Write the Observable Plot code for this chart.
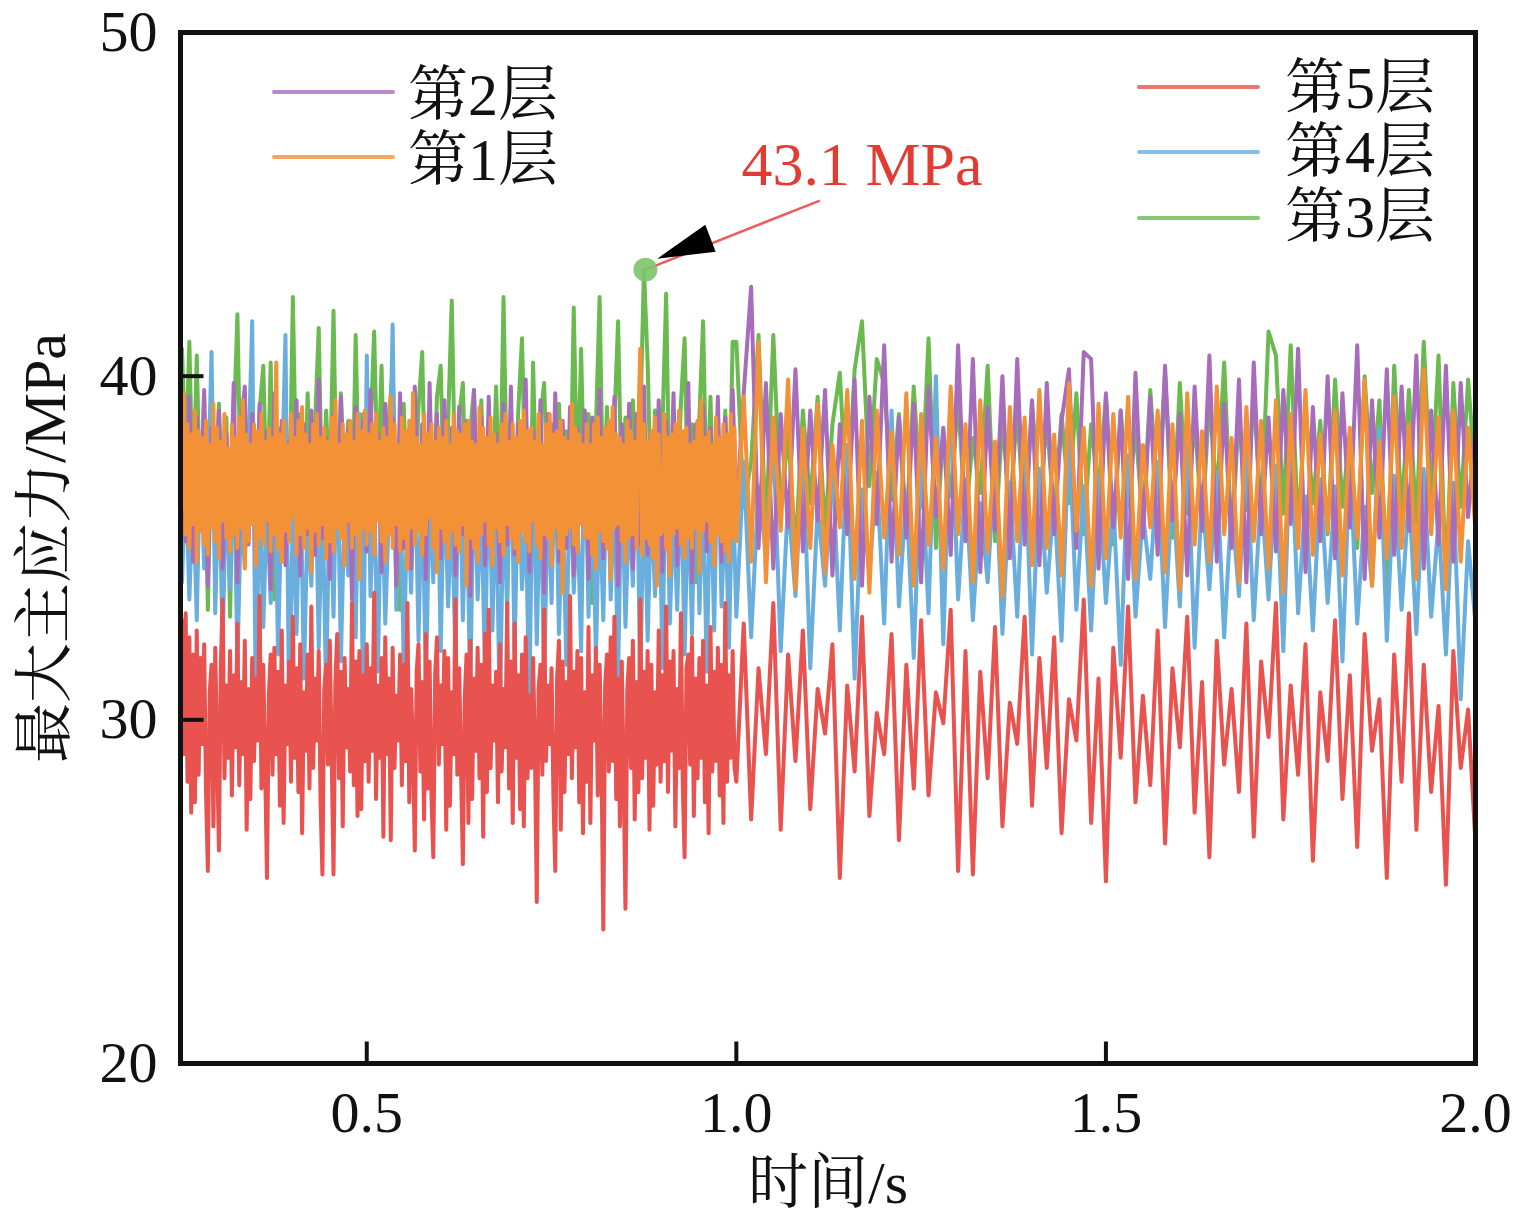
<!DOCTYPE html>
<html><head><meta charset="utf-8">
<script src="https://cdn.jsdelivr.net/npm/d3@7"></script>
<script src="https://cdn.jsdelivr.net/npm/@observablehq/plot@0.6"></script>
<style>
body{margin:0;background:#fff;}
#wrap{position:relative;width:1535px;height:1220px;}
.lg-line{position:absolute;height:4px;border-radius:2px;}
.lg-text{position:absolute;font-family:'Liberation Serif','Times New Roman','Noto Serif CJK SC','Noto Sans CJK SC',serif;font-size:60px;line-height:60px;color:#111;white-space:nowrap;}
</style></head>
<body><div id="wrap"></div>
<script>
// ---- data ----
// dense part: 0.25 s up to 1.0 s (samples evenly spread); sparse part: 1.00 … 2.00 s every 0.01 s
const denseStart = 0.25, denseEnd = 1.0;
const sparseStart = 1.0, sparseStep = 0.01;

// 第5层 (red), dense 300 samples
const layer5Dense = [
32.9,29.0,33.1,28.2,32.4,27.3,31.9,27.6,32.6,28.4,
31.8,29.3,32.2,27.9,25.6,30.8,31.6,26.9,32.1,29.1,
26.2,31.5,33.5,28.3,31.0,28.9,32.0,27.8,31.3,29.2,
32.8,28.1,31.1,29.0,32.3,26.8,30.9,27.7,31.8,28.8,
31.2,29.4,33.6,28.0,31.6,28.7,25.4,30.7,31.9,28.4,
32.1,29.0,31.4,27.5,32.6,27.0,31.0,29.3,31.7,28.2,
33.0,28.9,31.5,27.9,32.2,26.7,30.8,29.1,31.9,28.0,
33.3,28.6,31.2,29.4,32.0,27.6,25.5,30.9,31.6,28.7,
32.3,29.0,25.5,31.1,32.5,28.3,31.4,26.9,31.8,29.2,
30.9,28.5,33.4,28.1,31.7,27.2,32.0,27.4,31.3,28.8,
32.2,28.2,31.5,29.1,33.7,27.7,31.0,28.9,31.8,26.6,
32.4,29.0,31.2,26.5,32.1,28.6,30.7,29.4,31.9,28.1,
31.6,28.8,33.4,27.6,30.9,29.2,26.2,31.4,32.2,28.5,
31.1,27.1,32.5,28.0,31.7,27.8,26.0,31.3,32.4,28.7,
31.0,29.3,32.0,26.8,31.8,27.5,30.8,29.0,33.5,28.4,
31.5,28.6,25.8,30.6,31.9,27.0,32.3,27.7,31.2,29.1,
32.1,28.3,31.6,26.6,32.5,27.9,33.2,28.6,31.0,29.4,
31.4,27.6,32.2,28.5,30.9,29.2,33.4,28.0,31.7,27.0,
32.8,28.9,31.3,27.4,31.9,26.9,32.4,28.3,30.7,28.6,
31.8,29.1,24.7,30.9,31.6,28.4,33.2,28.8,31.0,29.3,
31.5,27.8,25.6,31.2,32.3,26.8,31.7,27.9,31.1,29.0,
33.6,28.3,31.4,29.2,32.0,27.6,31.8,26.7,30.8,28.2,
32.7,27.0,31.3,29.4,32.1,27.8,31.6,29.0,23.9,31.0,
31.9,28.5,32.4,28.8,33.0,27.7,31.2,26.9,31.7,28.4,
24.5,30.9,31.8,28.6,32.3,27.1,31.1,27.9,33.5,28.3,
31.4,28.9,32.0,26.8,31.6,27.5,30.8,28.7,32.6,28.2,
31.3,28.8,33.3,27.9,31.7,29.1,32.0,26.9,30.9,28.6,
33.1,28.1,26.0,31.5,31.9,28.7,32.4,27.2,31.2,28.3,
31.8,28.9,32.3,27.6,31.0,26.7,32.7,28.5,31.4,28.8,
32.1,27.8,31.6,27.0,33.4,28.2,31.3,28.9,32.0,28.6];
const layer5Sparse = [
28.2,32.8,27.1,31.5,29.0,33.4,26.8,31.9,28.8,32.6,
27.4,30.9,29.6,32.2,25.4,31.0,28.5,33.0,27.2,30.2,
29.0,32.5,26.5,31.6,28.0,32.9,27.8,30.8,29.9,33.2,
25.6,32.0,25.5,31.4,28.3,32.7,26.9,30.5,29.3,33.0,
27.5,31.8,28.6,32.4,26.7,30.6,29.4,33.5,27.0,31.2,
25.3,32.1,28.9,33.3,27.6,30.7,28.1,32.6,26.4,31.5,
29.2,33.0,27.3,31.1,26.0,32.3,28.7,30.9,27.9,32.8,
26.6,31.7,29.5,33.4,27.1,31.0,28.4,32.2,25.9,30.8,
28.8,32.9,27.7,31.3,26.3,32.5,29.1,30.6,25.4,31.9,
28.2,33.1,26.8,31.6,27.9,30.4,25.2,32.0,28.6,30.3,26.4];

// 第4层 (blue), dense 150 samples
const layer4Dense = [
34.0,37.2,33.5,36.8,32.9,38.0,34.4,36.5,40.7,33.1,
37.4,32.2,36.9,33.8,38.3,31.6,36.2,34.5,37.7,41.6,
30.0,37.0,32.7,36.4,33.4,38.1,31.9,36.7,41.2,29.8,
36.3,32.5,37.5,31.2,36.0,33.9,38.2,32.1,36.6,30.8,
37.1,33.0,38.4,31.7,36.4,34.2,37.6,32.4,38.9,30.5,
40.6,33.6,36.8,31.4,37.3,32.8,36.1,41.5,33.2,37.9,
31.5,36.5,33.7,38.0,32.3,37.2,30.9,36.6,34.0,38.5,
32.0,37.4,33.3,36.2,31.8,38.6,32.9,36.9,30.6,37.8,
33.5,36.3,31.3,38.1,32.6,37.0,29.8,36.7,33.1,38.7,
31.9,37.5,33.8,36.0,30.4,38.3,32.2,37.1,31.0,36.8,
33.4,38.0,32.5,36.4,31.6,37.6,33.7,36.1,32.0,38.9,
33.0,37.3,31.8,36.6,32.9,38.2,33.5,36.9,31.2,37.5,
32.7,36.3,33.9,38.4,30.9,37.1,32.3,36.5,33.6,37.8,
31.5,38.6,32.8,36.2,33.2,37.4,31.9,36.8,32.5,38.0,
33.1,36.7,31.4,37.2,32.6,38.5,33.3,36.4,32.1,37.0];
const layer4Sparse = [
33.0,37.5,32.4,36.8,34.8,38.2,32.0,36.4,33.6,37.9,
31.5,36.2,33.9,37.4,32.6,38.0,31.2,36.7,34.2,37.2,
32.8,39.0,33.3,36.6,31.8,37.8,33.1,40.0,32.2,39.4,
33.5,37.0,32.9,36.3,34.0,37.6,32.5,36.9,33.0,38.1,
31.9,37.3,33.7,36.5,32.3,38.4,33.2,36.8,32.6,37.1,
33.4,36.4,31.6,37.7,33.0,36.0,34.1,37.5,32.7,36.9,
33.3,38.0,32.1,36.6,33.8,37.2,32.4,36.3,33.6,37.8,
32.9,36.7,33.5,37.4,32.0,38.3,33.1,36.5,32.6,37.0,
33.4,36.8,31.7,37.6,32.8,36.2,33.9,38.5,32.3,37.1,
33.2,36.6,32.5,37.3,33.0,35.8,31.9,36.9,30.6,35.2,32.8];

// 第3层 (green), dense 150 samples
const layer3Dense = [
40.8,37.4,41.0,36.2,40.6,35.8,39.4,33.2,38.6,36.4,
39.2,35.6,38.8,33.0,38.4,41.8,36.0,39.1,35.4,38.7,
36.2,39.0,40.3,35.9,40.4,33.5,38.5,36.1,39.3,35.7,
42.3,36.4,38.9,35.5,39.5,36.3,38.6,41.4,35.8,39.0,
36.5,41.9,35.6,39.5,36.8,38.7,35.3,41.2,36.0,38.9,
35.7,38.4,41.3,36.6,40.3,35.2,38.8,40.2,36.1,33.2,
39.2,35.8,38.5,36.4,39.1,40.7,35.5,38.9,36.2,39.4,
40.3,35.9,38.6,42.2,36.3,38.8,39.8,35.6,38.4,39.6,
36.0,39.3,35.4,38.7,36.5,39.7,35.8,42.3,36.2,38.5,
35.7,39.0,41.1,36.4,33.6,40.4,35.9,38.8,39.8,36.1,
38.6,35.5,39.2,36.3,38.4,35.7,42.0,36.6,40.8,35.8,
38.9,33.4,38.5,42.3,36.0,39.1,35.6,38.7,41.6,36.2,
38.8,35.4,39.3,36.5,38.6,43.1,40.4,35.9,39.0,36.3,
38.5,42.4,35.7,38.9,36.4,39.2,41.1,35.8,38.6,34.0,
38.8,41.6,36.1,39.4,35.5,38.7,36.2,39.0,35.9,41.0];
const layer3Sparse = [
41.0,36.2,37.5,41.2,35.4,41.2,36.0,38.4,34.9,39.0,
36.3,39.4,35.5,38.6,40.1,36.0,40.2,41.6,36.8,40.5,
39.8,36.4,38.9,35.6,39.7,36.2,41.1,35.0,38.4,36.5,
39.3,35.8,38.2,36.6,40.3,35.2,38.7,36.1,39.0,35.5,
39.2,36.4,38.7,35.9,38.9,36.3,39.5,35.4,38.6,36.7,
39.4,35.1,39.0,36.2,38.5,35.7,39.6,36.4,40.1,35.3,
39.8,36.0,38.8,35.6,39.3,36.5,40.4,35.2,38.9,36.1,
39.5,35.8,41.3,40.6,36.0,40.9,35.5,39.2,36.3,38.7,
35.4,39.9,36.2,38.4,35.0,40.0,36.6,39.3,33.8,40.3,
36.0,39.6,35.7,41.0,36.4,40.6,33.9,39.8,36.2,39.9,37.0];

// 第2层 (purple), dense 150 samples
const layer2Dense = [
38.0,35.2,39.4,34.6,38.8,36.0,39.6,33.9,38.5,35.5,
39.0,34.4,38.3,35.8,39.8,34.0,38.6,39.7,35.1,38.9,
34.7,39.2,35.6,38.4,33.8,39.5,35.0,38.7,34.5,38.1,
35.9,39.3,34.2,38.6,35.4,39.0,34.8,39.9,35.3,38.2,
34.1,38.9,35.7,39.4,34.6,38.5,33.5,39.1,35.2,38.7,
34.9,39.6,35.5,38.3,34.3,39.2,35.8,38.8,33.9,39.5,
35.0,38.4,34.4,39.7,35.6,38.6,34.1,39.8,35.3,38.9,
34.7,39.3,35.9,38.5,34.2,39.1,35.4,38.7,33.6,39.6,
35.2,38.8,34.5,39.4,35.7,38.3,34.0,39.2,35.1,39.7,
34.8,38.6,35.6,39.9,34.3,38.4,35.5,39.3,33.7,38.9,
35.4,39.5,34.6,38.7,35.0,39.1,34.2,38.5,35.8,39.0,
34.1,38.8,35.3,39.6,34.7,38.3,35.5,39.4,33.9,38.6,
35.6,39.2,34.4,38.9,35.1,39.7,34.8,38.4,35.9,39.3,
34.3,38.7,35.7,39.5,34.5,38.2,35.2,39.8,34.0,38.6,
35.4,39.1,34.9,38.5,35.8,39.4,34.6,38.8,35.3,39.6];
const layer2Sparse = [
36.0,39.5,42.6,35.0,39.8,34.4,38.9,35.6,40.2,34.9,
39.0,35.8,39.6,34.2,38.6,35.4,39.9,33.9,39.4,35.7,
40.9,34.6,38.8,35.3,39.2,34.0,39.7,35.9,38.5,34.8,
40.9,35.2,40.5,34.3,39.1,35.5,40.0,34.7,40.5,35.1,
39.3,34.5,39.8,35.4,38.7,40.2,35.0,40.7,40.5,34.4,
39.5,35.6,39.0,34.1,40.1,35.3,39.4,34.8,40.3,35.8,
38.9,34.2,39.7,35.5,40.6,34.6,39.2,35.0,39.9,34.0,
40.4,35.4,38.8,34.9,39.6,35.7,40.8,34.3,39.1,35.2,
40.0,34.7,39.5,35.6,40.9,34.1,39.3,35.3,40.2,34.8,
39.7,35.5,40.6,34.4,39.0,35.1,40.3,34.6,39.8,35.9,38.6];

// 第1层 (orange), dense 300 samples
const layer1Dense = [
36.2,39.5,35.4,38.6,35.0,38.3,35.7,39.0,34.6,38.4,
35.5,38.2,35.1,38.7,34.8,38.0,35.6,39.2,35.2,38.5,
34.7,38.1,35.8,38.9,35.3,37.9,34.9,38.6,35.4,38.2,
35.0,38.8,35.6,39.3,34.4,38.3,35.2,38.0,35.7,38.6,
34.5,38.4,35.3,38.9,35.1,38.1,35.8,38.5,34.9,38.2,
35.4,40.4,35.0,38.3,34.6,38.7,35.5,38.0,35.2,38.9,
35.9,38.2,34.8,38.7,35.4,39.1,35.0,38.3,35.6,38.0,
34.3,38.6,35.5,38.9,35.1,38.2,35.7,38.5,34.7,38.1,
35.2,38.8,34.9,39.3,35.6,38.0,35.3,38.6,34.5,38.3,
35.8,38.7,35.0,38.1,35.4,38.9,34.1,38.4,35.6,39.0,
35.1,38.3,35.5,38.6,34.8,38.9,35.8,38.1,35.2,38.5,
34.6,38.2,35.4,39.4,35.0,38.6,35.7,38.0,34.9,38.8,
35.3,38.4,34.4,38.7,35.6,39.5,35.1,38.2,35.5,38.0,
34.8,38.9,35.4,38.3,35.9,38.6,35.0,38.1,34.3,38.5,
35.6,38.2,35.2,38.7,34.7,38.0,35.5,38.9,35.1,38.4,
34.9,38.3,35.7,38.6,33.9,38.7,35.3,38.1,35.0,38.0,
34.6,39.1,35.4,38.5,35.8,38.2,35.1,38.8,34.5,38.3,
35.6,38.0,35.2,38.6,34.8,38.9,35.7,38.1,35.3,38.6,
35.0,38.2,34.6,38.7,35.5,39.0,35.2,38.4,34.9,38.5,
35.8,38.1,35.1,38.9,34.7,38.0,35.4,38.6,35.3,38.9,
34.5,38.3,35.6,38.4,35.0,38.7,33.7,38.2,35.4,38.1,
35.6,39.2,35.1,38.5,34.9,38.3,35.7,38.0,35.3,38.6,
35.3,38.0,34.8,38.6,34.4,38.8,35.5,38.2,35.2,38.5,
35.0,38.7,34.1,39.1,35.6,38.3,35.7,38.2,35.2,38.0,
34.6,38.7,35.3,38.4,35.4,38.1,35.0,38.6,40.8,34.8,
38.6,35.3,38.1,35.1,38.4,34.7,38.8,33.9,38.3,35.4,
35.5,38.9,35.0,38.2,34.2,38.3,35.4,38.6,35.6,39.0,
35.1,38.4,34.7,38.5,35.3,38.0,35.0,38.1,35.6,38.7,
34.3,39.3,35.5,38.2,35.8,38.4,35.2,38.0,34.5,38.8,
35.4,38.2,35.2,38.6,34.9,38.3,34.6,38.9,35.3,38.5];
const layer1Sparse = [
35.2,39.4,34.6,41.0,34.0,38.8,35.5,39.9,33.8,38.5,
35.0,39.2,34.3,38.0,35.6,39.6,34.1,38.7,33.7,39.0,
35.3,38.4,34.8,39.5,33.9,38.9,35.1,38.2,34.4,39.7,
35.4,38.6,34.0,39.3,34.9,38.1,33.6,39.1,35.2,38.8,
34.5,39.6,35.0,38.3,34.2,39.8,35.5,38.5,33.9,39.2,
34.7,38.9,35.3,39.4,34.1,38.0,35.6,39.0,34.3,38.6,
33.8,39.5,35.1,38.4,34.6,39.7,35.4,38.2,34.0,39.1,
35.2,38.7,34.4,39.3,33.7,38.9,35.0,39.6,34.8,38.3,
35.5,39.0,34.2,38.5,35.3,39.9,33.9,38.1,34.7,39.4,
35.0,38.6,34.1,40.2,35.4,38.8,33.8,39.0,34.6,38.5,35.5];

const xTicks = [0.5, 1.0, 1.5, 2.0];
const yTicks = [20, 30, 40, 50];

// peak annotation
const peakNote = [{t: 0.877, v: 43.1, tipT: 0.893, tipV: 43.42, tailT: 1.113, tailV: 45.11, labelT: 1.170, labelV: 46.13, label: "43.1 MPa"}];

// ---- build ----
function seriesRows(dense, sparse) {
  const step = (denseEnd - denseStart) / dense.length;
  const rows = dense.map((v, i) => ({t: denseStart + step * i, v}));
  sparse.forEach((v, j) => rows.push({t: sparseStart + sparseStep * j, v}));
  return rows;
}

const colors = {"第1层": "#f39137", "第2层": "#a86cbc", "第3层": "#6bba50", "第4层": "#6aaede", "第5层": "#e8524f"};
const rowsByLayer = {
  "第1层": seriesRows(layer1Dense, layer1Sparse),
  "第2层": seriesRows(layer2Dense, layer2Sparse),
  "第3层": seriesRows(layer3Dense, layer3Sparse),
  "第4层": seriesRows(layer4Dense, layer4Sparse),
  "第5层": seriesRows(layer5Dense, layer5Sparse)
};
const drawOrder = ["第3层", "第4层", "第2层", "第5层", "第1层"];

const FONT = "'Liberation Serif','Times New Roman','Noto Serif CJK SC','Noto Sans CJK SC',serif";
const tickLine = {draw(ctx, l) { ctx.moveTo(0, 0); ctx.lineTo(0, -l); }};
const triangle = {draw(ctx, l) { ctx.moveTo(0, 0); ctx.lineTo(-14.5, -l); ctx.lineTo(14.5, -l); ctx.closePath(); }};

const marks = drawOrder.map(name =>
  Plot.line(rowsByLayer[name], {x: "t", y: "v", stroke: colors[name], strokeWidth: 4}));

marks.push(
  Plot.link(peakNote, {x1: "t", y1: "v", x2: "tailT", y2: "tailV", stroke: "#ee5a5e", strokeWidth: 2.5}),
  Plot.vector(peakNote, {x: "tipT", y: "tipV", anchor: "start", length: 57, rotate: 69, shape: triangle, fill: "#000", stroke: "none"}),
  Plot.dot(peakNote, {x: "t", y: "v", r: 12, fill: "#7cc46a", fillOpacity: 0.9}),
  Plot.text(peakNote, {x: "labelT", y: "labelV", text: d => d.label, fill: "#e23b32", fontSize: 62, fontFamily: FONT}),
  Plot.vector(yTicks, {y: d => d, frameAnchor: "left", anchor: "start", length: 23, rotate: 90, shape: tickLine, stroke: "#111", strokeWidth: 4, strokeLinecap: "butt"}),
  Plot.vector(xTicks, {x: d => d, frameAnchor: "bottom", anchor: "start", length: 22, rotate: 0, shape: tickLine, stroke: "#111", strokeWidth: 4, strokeLinecap: "butt"}),
  Plot.axisY({ticks: yTicks, tickSize: 0, tickPadding: 23, tickFormat: d => String(d), fontSize: 58, fontFamily: FONT, fill: "#111", label: null}),
  Plot.axisX({ticks: xTicks, tickSize: 0, tickPadding: 27, tickFormat: d3.format(".1f"), fontSize: 58, fontFamily: FONT, fill: "#111", label: null}),
  Plot.text(["时间/s"], {text: d => d, frameAnchor: "bottom", dy: 120, lineAnchor: "middle", textAnchor: "middle", fontSize: 60, fontFamily: FONT, fill: "#111"}),
  Plot.text(["最大主应力/MPa"], {text: d => d, frameAnchor: "left", dx: -135, rotate: -90, textAnchor: "middle", lineAnchor: "middle", fontSize: 60, fontFamily: FONT, fill: "#111"}),
  Plot.frame({stroke: "#111", strokeWidth: 5})
);

const chart = Plot.plot({
  width: 1535, height: 1220,
  marginLeft: 180, marginRight: 60, marginTop: 32, marginBottom: 157,
  x: {domain: [0.248, 2.0], label: null},
  y: {domain: [20, 50], label: null},
  style: {fontFamily: FONT, background: "#fff"},
  marks
});
const wrap = document.getElementById("wrap");
wrap.appendChild(chart);

// legend (inside the plot frame)
const legendItems = [
  {name: "第2层", x1: 272, x2: 395, y: 92, tx: 408, ty: 95},
  {name: "第1层", x1: 272, x2: 395, y: 157, tx: 408, ty: 160},
  {name: "第5层", x1: 1137, x2: 1260, y: 87, tx: 1285, ty: 88},
  {name: "第4层", x1: 1137, x2: 1260, y: 152, tx: 1285, ty: 152},
  {name: "第3层", x1: 1137, x2: 1260, y: 218, tx: 1285, ty: 217}
];
for (const it of legendItems) {
  const ln = document.createElement("div");
  ln.className = "lg-line";
  ln.style.left = it.x1 + "px"; ln.style.width = (it.x2 - it.x1) + "px";
  ln.style.top = (it.y - 2) + "px"; ln.style.background = colors[it.name]; ln.style.opacity = 0.8;
  wrap.appendChild(ln);
  const tx = document.createElement("div");
  tx.className = "lg-text";
  tx.style.left = it.tx + "px"; tx.style.top = (it.ty - 30) + "px";
  tx.textContent = it.name;
  wrap.appendChild(tx);
}
</script></body></html>
